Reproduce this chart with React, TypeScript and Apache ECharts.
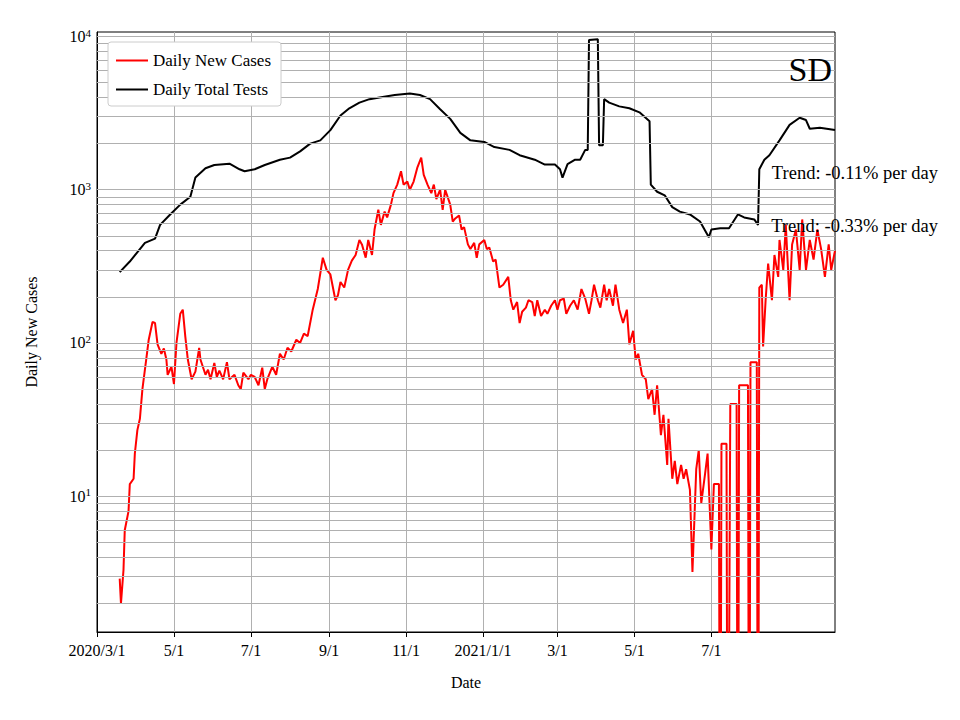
import React, { useEffect, useRef } from "react";
import * as echarts from "echarts";

const START = new Date(2020, 2, 1);
const N_DAYS = 586;
const TICK_DAYS = [0, 61, 122, 184, 245, 306, 365, 426, 487];
const TICK_LABELS = ["2020/3/1", "5/1", "7/1", "9/1", "11/1", "2021/1/1", "3/1", "5/1", "7/1"];
const Y_MAJOR = [10, 100, 1000, 10000];
const Y_MAJOR_EXP = ["1", "2", "3", "4"];

const caseDays = [18,19,21,22,25,26,29,30,32,34,36,39,41,44,46,48,51,53,55,56,59,61,63,66,68,70,72,75,78,81,82,86,88,90,93,95,97,100,103,105,109,112,114,116,120,122,125,128,131,133,135,139,142,145,148,151,154,158,161,164,167,171,175,179,182,185,189,191,193,196,199,202,205,208,210,213,215,218,220,223,225,228,230,233,235,238,241,243,246,248,251,254,257,259,262,265,267,269,272,274,276,280,282,284,287,289,291,294,296,299,301,303,307,309,311,314,316,319,322,326,328,330,333,335,337,340,342,345,347,349,352,355,357,360,363,365,367,370,372,375,378,381,384,387,390,392,394,397,399,402,404,406,409,411,414,417,420,422,425,427,429,432,435,437,440,442,444,447,449,452,453,456,458,460,463,465,467,470,472,475,477,479,482,484,487,489,493,494,495,499,500,502,507,508,509,516,517,518,523,524,525,527,528,530,532,535,537,540,541,544,546,549,551,554,557,559,562,565,568,571,574,577,580,582,585];
const caseValues = [2.9,2.0,3.3,6,8,12,13,19,27,32,50,78,105,137,135,98,85,92,78,62,70,54,100,155,165,110,78,58,65,93,78,62,67,58,74,60,66,58,75,58,62,53,50,64,58,62,60,53,69,50,58,70,62,85,78,93,88,105,100,115,111,165,225,360,300,280,190,205,250,230,300,345,375,470,440,360,470,375,550,740,590,720,660,800,950,1080,1320,1080,1130,1000,1130,1400,1620,1250,1080,950,1080,870,1000,740,1000,800,620,650,680,550,570,440,410,450,360,440,470,410,420,340,350,230,240,270,190,165,185,135,160,170,190,185,150,190,150,165,155,175,190,165,190,195,155,175,190,165,225,195,155,190,240,190,170,240,190,225,175,240,165,135,165,98,120,78,85,62,58,43,50,34,53,25,34,16,32,13,17,12,16,13,15,11,3.2,15,20,9,14,19,4.5,12,12,0.01,22,22,0.01,40,40,0.01,53,53,0.01,75,75,0.01,230,240,95,190,330,190,375,270,470,300,590,190,440,550,300,640,300,470,350,550,410,270,440,300,400];

const testDays = [18,26,34,38,46,50,58,66,74,78,86,93,105,113,117,125,133,145,153,161,169,177,185,193,200,208,216,224,236,248,256,264,272,280,288,296,307,315,327,335,347,355,363,367,369,373,379,383,387,389,390,397,398,401,402,406,414,422,430,438,439,444,450,456,462,470,478,485,487,494,501,508,513,521,524,525,529,533,541,549,557,562,565,573,585];
const testValues = [290,340,410,450,480,590,690,800,900,1200,1380,1450,1480,1360,1320,1360,1450,1570,1620,1780,2000,2100,2450,3050,3400,3700,3900,4000,4150,4250,4150,3900,3350,2900,2350,2100,2050,1900,1820,1680,1570,1460,1460,1360,1200,1470,1570,1570,1820,1820,9500,9600,1950,1950,3900,3700,3500,3400,3200,2800,1080,970,920,770,720,690,620,490,550,560,560,690,660,640,590,1360,1570,1680,2100,2650,2950,2850,2500,2540,2450];

const F = "Liberation Serif, Times New Roman, serif";

function dateLabel(i: number) {
  const d = new Date(START.getTime());
  d.setDate(d.getDate() + i);
  return `${d.getFullYear()}/${d.getMonth() + 1}/${d.getDate()}`;
}

export default function App() {
  const ref = useRef<HTMLDivElement>(null);
  useEffect(() => {
    const chart = echarts.init(ref.current!, null, { renderer: "svg" });
    const cats = Array.from({ length: N_DAYS }, (_, i) => dateLabel(i));
    const tickSet = new Set(TICK_DAYS);
    const minor: any[] = [];
    for (let p = 1; p <= 1000; p *= 10)
      for (let k = 2; k <= 9; k++) if (k * p >= 1.3) minor.push({ yAxis: k * p });
    const major = Y_MAJOR.map((v, i) => ({
      yAxis: v,
      label: {
        show: true,
        position: "start",
        distance: 6,
        formatter: `{b|10}{s|${Y_MAJOR_EXP[i]}}`,
        rich: {
          b: { fontFamily: F, fontSize: 16, color: "#000" },
          s: { fontFamily: F, fontSize: 11, color: "#000", verticalAlign: "top", padding: [0, 0, 8, 0] },
        },
      },
    }));
    chart.setOption({
      animation: false,
      grid: { left: 97, right: 125, top: 32, bottom: 88, show: true, borderColor: "#000", borderWidth: 1, backgroundColor: "transparent" },
      legend: {
        left: 108, top: 42, orient: "vertical", itemWidth: 32, itemHeight: 2, itemGap: 12, z: 20,
        padding: [10, 10, 8, 8], borderColor: "#ccc", borderWidth: 1, borderRadius: 3, backgroundColor: "#fff",
        textStyle: { fontFamily: F, fontSize: 17, color: "#000" },
        data: [{ name: "Daily New Cases", icon: "rect" }, { name: "Daily Total Tests", icon: "rect" }],
      },
      xAxis: {
        type: "category", data: cats, boundaryGap: false, name: "Date", nameLocation: "middle", nameGap: 42,
        nameTextStyle: { fontFamily: F, fontSize: 16, color: "#000" },
        axisLine: { lineStyle: { color: "#000" } },
        axisTick: { interval: (i: number) => tickSet.has(i), length: 5, lineStyle: { color: "#000" } },
        axisLabel: { interval: (i: number) => tickSet.has(i), formatter: (_: string, i: number) => TICK_LABELS[TICK_DAYS.indexOf(i)] ?? "", fontFamily: F, fontSize: 16, color: "#000", margin: 10 },
        splitLine: { show: true, interval: (i: number) => tickSet.has(i) && i > 0, lineStyle: { color: "#b0b0b0", width: 1 } },
      },
      yAxis: {
        type: "log", logBase: 10, min: 1.3, max: 10700, name: "Daily New Cases", nameLocation: "middle", nameGap: 58,
        nameTextStyle: { fontFamily: F, fontSize: 16, color: "#000" },
        axisLine: { show: true, lineStyle: { color: "#000" } },
        axisLabel: { show: false }, axisTick: { show: false }, splitLine: { show: false },
      },
      graphic: [
        { type: "text", right: 128, top: 52, z: 20, style: { text: "SD", font: `34px ${F}`, fill: "#000" } },
        { type: "text", right: 22, top: 163, z: 20, style: { text: "Trend: -0.11% per day", font: `18.5px ${F}`, fill: "#000" } },
        { type: "text", right: 22, top: 216, z: 20, style: { text: "Trend: -0.33% per day", font: `18.5px ${F}`, fill: "#000" } },
      ],
      series: [
        {
          type: "line", data: [], z: 1, silent: true,
          markLine: { silent: true, symbol: "none", animation: false, label: { show: false }, lineStyle: { color: "#b0b0b0", type: "solid", width: 1 }, data: [...minor, ...major] },
        },
        { name: "Daily New Cases", type: "line", z: 3, showSymbol: false, color: "#ff0000", lineStyle: { width: 2, color: "#ff0000" }, data: caseDays.map((d, i) => [d, caseValues[i]]) },
        { name: "Daily Total Tests", type: "line", z: 3, showSymbol: false, color: "#000", lineStyle: { width: 2, color: "#000" }, data: testDays.map((d, i) => [d, testValues[i]]) },
      ],
    });
    return () => chart.dispose();
  }, []);
  return <div ref={ref} style={{ width: 960, height: 720, margin: -8 }} />;
}
